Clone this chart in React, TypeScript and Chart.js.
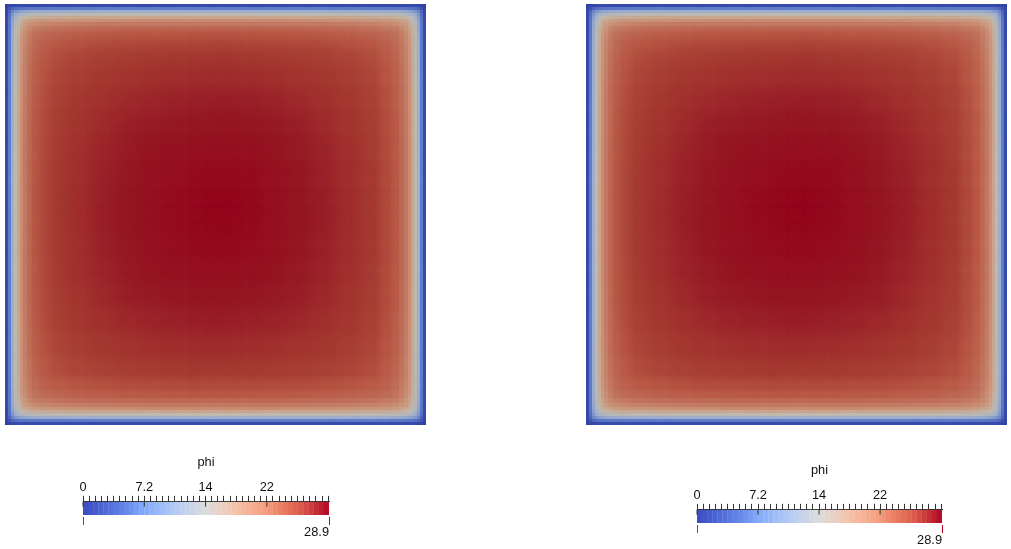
import React, { useEffect, useRef } from "react";
import { Chart, registerables } from "chart.js";

Chart.register(...registerables);

const FONT = '"Liberation Sans"';

// Cell edges of the phi field, in panel units (finer near the walls, where phi rises quickly)
const cellEdges = [
  0, 3, 6, 9, 12, 15, 18, 22, 27, 34, 46, 66, 91, 116, 141, 166, 191, 210,
  230, 255, 280, 305, 330, 355, 375, 387, 394, 399, 403, 406, 409, 412, 415, 418, 421,
];

// phi, one row per cell row (the two panels look the same at this resolution)
const phiRows = [
  [.3,.7,.9,1.0,1.1,1.1,1.1,1.1,1.2,1.2,1.2,1.2,1.2,1.2,1.2,1.2,1.2,1.2,1.2,1.2,1.2,1.2,1.2,1.2,1.2,1.2,1.1,1.1,1.1,1.1,1.0,.9,.7,.3],
  [.7,2.0,3.2,3.9,4.2,4.4,4.5,4.6,4.7,4.8,4.9,4.9,5.0,5.0,5.0,5.0,5.0,5.0,5.0,5.0,5.0,5.0,4.9,4.9,4.8,4.7,4.6,4.5,4.4,4.2,3.9,3.2,2.0,.7],
  [.9,3.2,6.0,7.8,8.8,9.4,9.8,10.1,10.3,10.5,10.7,10.8,10.9,10.9,11.0,11.0,11.0,11.0,11.0,11.0,10.9,10.9,10.8,10.7,10.5,10.3,10.1,9.8,9.4,8.8,7.8,6.0,3.2,.9],
  [1.0,3.9,7.8,10.4,12.0,13.0,13.6,14.1,14.4,14.7,15.0,15.2,15.3,15.4,15.4,15.5,15.5,15.5,15.5,15.4,15.4,15.3,15.2,15.0,14.7,14.4,14.1,13.6,13.0,12.0,10.4,7.8,3.9,1.0],
  [1.1,4.2,8.8,12.0,14.0,15.3,16.0,16.5,16.9,17.2,17.5,17.7,17.8,17.9,17.9,18.0,18.0,18.0,18.0,17.9,17.9,17.8,17.7,17.5,17.2,16.9,16.5,16.0,15.3,14.0,12.0,8.8,4.2,1.1],
  [1.1,4.4,9.4,13.0,15.3,16.7,17.6,18.2,18.7,19.1,19.4,19.6,19.8,19.9,20.0,20.0,20.0,20.0,20.0,20.0,19.9,19.8,19.6,19.4,19.1,18.7,18.2,17.6,16.7,15.3,13.0,9.4,4.4,1.1],
  [1.1,4.5,9.8,13.6,16.0,17.6,18.7,19.4,19.9,20.3,20.7,20.9,21.1,21.2,21.3,21.3,21.3,21.3,21.3,21.3,21.2,21.1,20.9,20.7,20.3,19.9,19.4,18.7,17.6,16.0,13.6,9.8,4.5,1.1],
  [1.1,4.6,10.1,14.1,16.5,18.2,19.4,20.2,20.8,21.2,21.6,21.9,22.1,22.2,22.3,22.3,22.3,22.4,22.3,22.3,22.2,22.1,21.9,21.6,21.2,20.8,20.2,19.4,18.2,16.5,14.1,10.1,4.6,1.1],
  [1.2,4.7,10.3,14.4,16.9,18.7,19.9,20.8,21.5,22.0,22.4,22.7,22.9,23.1,23.1,23.2,23.2,23.3,23.2,23.1,23.1,22.9,22.7,22.4,22.0,21.5,20.8,19.9,18.7,16.9,14.4,10.3,4.7,1.2],
  [1.2,4.8,10.5,14.7,17.2,19.1,20.3,21.2,22.0,22.6,23.1,23.4,23.7,23.8,23.9,24.0,24.0,24.1,24.0,23.9,23.8,23.7,23.4,23.1,22.6,22.0,21.2,20.3,19.1,17.2,14.7,10.5,4.8,1.2],
  [1.2,4.9,10.7,15.0,17.5,19.4,20.7,21.6,22.4,23.1,23.9,24.3,24.6,24.8,24.9,25.0,25.0,25.1,25.0,24.9,24.8,24.6,24.3,23.9,23.1,22.4,21.6,20.7,19.4,17.5,15.0,10.7,4.9,1.2],
  [1.2,4.9,10.8,15.2,17.7,19.6,20.9,21.9,22.7,23.4,24.3,24.8,25.1,25.4,25.6,25.7,25.8,25.8,25.8,25.6,25.4,25.1,24.8,24.3,23.4,22.7,21.9,20.9,19.6,17.7,15.2,10.8,4.9,1.2],
  [1.2,5.0,10.9,15.3,17.8,19.8,21.1,22.1,22.9,23.7,24.6,25.1,25.6,26.0,26.2,26.4,26.5,26.6,26.5,26.3,26.0,25.6,25.1,24.6,23.7,22.9,22.1,21.1,19.8,17.8,15.3,10.9,5.0,1.2],
  [1.2,5.0,10.9,15.4,17.9,19.9,21.2,22.2,23.1,23.8,24.8,25.4,26.0,26.5,26.8,27.0,27.1,27.2,27.1,26.9,26.5,26.0,25.4,24.8,23.8,23.1,22.2,21.2,19.9,17.9,15.4,10.9,5.0,1.2],
  [1.2,5.0,11.0,15.4,17.9,20.0,21.3,22.3,23.1,23.9,24.9,25.6,26.2,26.8,27.3,27.5,27.7,27.8,27.7,27.4,26.8,26.2,25.6,24.9,23.9,23.1,22.3,21.3,20.0,17.9,15.4,11.0,5.0,1.2],
  [1.2,5.0,11.0,15.5,18.0,20.0,21.3,22.3,23.2,24.0,25.0,25.7,26.4,27.0,27.5,28.0,28.3,28.4,28.3,27.6,27.0,26.4,25.7,25.0,24.0,23.2,22.3,21.3,20.0,18.0,15.5,11.0,5.0,1.2],
  [1.2,5.0,11.0,15.5,18.0,20.0,21.3,22.3,23.2,24.0,25.0,25.8,26.5,27.1,27.7,28.3,28.7,28.9,28.5,27.8,27.1,26.5,25.8,25.0,24.0,23.2,22.3,21.3,20.0,18.0,15.5,11.0,5.0,1.2],
  [1.2,5.0,11.0,15.5,18.0,20.0,21.3,22.3,23.2,24.0,25.0,25.8,26.5,27.1,27.7,28.2,28.6,28.7,28.4,27.8,27.1,26.5,25.8,25.0,24.0,23.2,22.3,21.3,20.0,18.0,15.5,11.0,5.0,1.2],
  [1.2,5.0,11.0,15.5,18.0,20.0,21.3,22.3,23.2,24.0,25.0,25.7,26.4,27.0,27.5,28.0,28.2,28.3,28.1,27.6,27.0,26.4,25.7,25.0,24.0,23.2,22.3,21.3,20.0,18.0,15.5,11.0,5.0,1.2],
  [1.2,5.0,11.0,15.4,17.9,20.0,21.3,22.3,23.1,23.9,24.9,25.6,26.2,26.8,27.3,27.5,27.7,27.7,27.6,27.3,26.8,26.2,25.6,24.9,23.9,23.1,22.3,21.3,20.0,17.9,15.4,11.0,5.0,1.2],
  [1.2,5.0,10.9,15.4,17.9,19.9,21.2,22.2,23.1,23.8,24.8,25.4,26.0,26.5,26.8,27.0,27.1,27.1,27.0,26.8,26.5,26.0,25.4,24.8,23.8,23.1,22.2,21.2,19.9,17.9,15.4,10.9,5.0,1.2],
  [1.2,5.0,10.9,15.3,17.8,19.8,21.1,22.1,22.9,23.7,24.6,25.1,25.6,26.0,26.2,26.4,26.5,26.5,26.4,26.2,26.0,25.6,25.1,24.6,23.7,22.9,22.1,21.1,19.8,17.8,15.3,10.9,5.0,1.2],
  [1.2,4.9,10.8,15.2,17.7,19.6,20.9,21.9,22.7,23.4,24.3,24.8,25.1,25.4,25.6,25.7,25.8,25.8,25.7,25.6,25.4,25.1,24.8,24.3,23.4,22.7,21.9,20.9,19.6,17.7,15.2,10.8,4.9,1.2],
  [1.2,4.9,10.7,15.0,17.5,19.4,20.7,21.6,22.4,23.1,23.9,24.3,24.6,24.8,24.9,25.0,25.0,25.0,25.0,24.9,24.8,24.6,24.3,23.9,23.1,22.4,21.6,20.7,19.4,17.5,15.0,10.7,4.9,1.2],
  [1.2,4.8,10.5,14.7,17.2,19.1,20.3,21.2,22.0,22.6,23.1,23.4,23.7,23.8,23.9,24.0,24.0,24.0,24.0,23.9,23.8,23.7,23.4,23.1,22.6,22.0,21.2,20.3,19.1,17.2,14.7,10.5,4.8,1.2],
  [1.2,4.7,10.3,14.4,16.9,18.7,19.9,20.8,21.5,22.0,22.4,22.7,22.9,23.1,23.1,23.2,23.2,23.2,23.2,23.1,23.1,22.9,22.7,22.4,22.0,21.5,20.8,19.9,18.7,16.9,14.4,10.3,4.7,1.2],
  [1.1,4.6,10.1,14.1,16.5,18.2,19.4,20.2,20.8,21.2,21.6,21.9,22.1,22.2,22.3,22.3,22.3,22.3,22.3,22.3,22.2,22.1,21.9,21.6,21.2,20.8,20.2,19.4,18.2,16.5,14.1,10.1,4.6,1.1],
  [1.1,4.5,9.8,13.6,16.0,17.6,18.7,19.4,19.9,20.3,20.7,20.9,21.1,21.2,21.3,21.3,21.3,21.3,21.3,21.3,21.2,21.1,20.9,20.7,20.3,19.9,19.4,18.7,17.6,16.0,13.6,9.8,4.5,1.1],
  [1.1,4.4,9.4,13.0,15.3,16.7,17.6,18.2,18.7,19.1,19.4,19.6,19.8,19.9,20.0,20.0,20.0,20.0,20.0,20.0,19.9,19.8,19.6,19.4,19.1,18.7,18.2,17.6,16.7,15.3,13.0,9.4,4.4,1.1],
  [1.1,4.2,8.8,12.0,14.0,15.3,16.0,16.5,16.9,17.2,17.5,17.7,17.8,17.9,17.9,18.0,18.0,18.0,18.0,17.9,17.9,17.8,17.7,17.5,17.2,16.9,16.5,16.0,15.3,14.0,12.0,8.8,4.2,1.1],
  [1.0,3.9,7.8,10.4,12.0,13.0,13.6,14.1,14.4,14.7,15.0,15.2,15.3,15.4,15.4,15.5,15.5,15.5,15.5,15.4,15.4,15.3,15.2,15.0,14.7,14.4,14.1,13.6,13.0,12.0,10.4,7.8,3.9,1.0],
  [.9,3.2,6.0,7.8,8.8,9.4,9.8,10.1,10.3,10.5,10.7,10.8,10.9,10.9,11.0,11.0,11.0,11.0,11.0,11.0,10.9,10.9,10.8,10.7,10.5,10.3,10.1,9.8,9.4,8.8,7.8,6.0,3.2,.9],
  [.7,2.0,3.2,3.9,4.2,4.4,4.5,4.6,4.7,4.8,4.9,4.9,5.0,5.0,5.0,5.0,5.0,5.0,5.0,5.0,5.0,5.0,4.9,4.9,4.8,4.7,4.6,4.5,4.4,4.2,3.9,3.2,2.0,.7],
  [.3,.7,.9,1.0,1.1,1.1,1.1,1.1,1.2,1.2,1.2,1.2,1.2,1.2,1.2,1.2,1.2,1.2,1.2,1.2,1.2,1.2,1.2,1.2,1.2,1.2,1.1,1.1,1.1,1.1,1.0,.9,.7,.3],
];

const phiMax = 28.9;
const axisTicks = [
  0, .72, 1.44, 2.16, 2.88, 3.6, 4.32, 5.04, 5.76, 6.48, 7.2, 7.92, 8.64, 9.36, 10.08, 10.8, 11.52, 12.24,
  12.96, 13.68, 14.4, 15.12, 15.84, 16.56, 17.28, 18, 18.72, 19.44, 20.16, 20.88, 21.6, 22.32, 23.04, 23.76,
  24.48, 25.2, 25.92, 26.64, 27.36, 28.08, 28.8,
];
const majorTicks = [0, 7.2, 14.4, 21.6];
const majorLabels = ["0", "7.2", "14", "22"];
const rangeTicks = [0, 28.9];
const rangeLabels = ["", "28.9"];
const barBands = 48;

type Stop = [number, number, number, number];
// lit surface colours of the field
const fieldStops: Stop[] = [
  [0, 45, 62, 160], [1.2, 55, 75, 170], [5, 95, 125, 200], [11, 160, 175, 205], [15.5, 190, 185, 175],
  [18, 200, 165, 140], [20, 200, 140, 115], [22.3, 190, 105, 85], [23.2, 185, 90, 70], [25, 165, 58, 50],
  [25.8, 160, 45, 45], [26.5, 152, 30, 40], [27.1, 150, 22, 35], [27.7, 150, 17, 33], [28.2, 150, 12, 31],
  [28.9, 148, 5, 28],
];
// colour bar colours
const barStops: Stop[] = [
  [0, 59, 76, 192], [3.6, 85, 115, 222], [7.2, 130, 170, 250], [10.8, 180, 202, 245], [14.45, 221, 221, 221],
  [18, 245, 195, 170], [21.7, 244, 154, 123], [25.3, 222, 96, 77], [28.9, 178, 8, 38],
];

function rgbFor(v: number, stops: Stop[]) {
  for (let i = 1; i < stops.length; i++) {
    if (v <= stops[i][0]) {
      const a = stops[i - 1];
      const b = stops[i];
      const t = (v - a[0]) / (b[0] - a[0]);
      return [1, 2, 3].map((k) => Math.round(a[k] + (b[k] - a[k]) * t));
    }
  }
  const l = stops[stops.length - 1];
  return [l[1], l[2], l[3]];
}
function colorFor(v: number, stops: Stop[]) {
  const c = rgbFor(v, stops);
  return `rgb(${c[0]},${c[1]},${c[2]})`;
}

const FEATHER_FROM = 7;
const spriteCache = new Map<string, HTMLCanvasElement>();
// A cell sprite: solid for thin cells; wider cells fade out towards their neighbours' centres
function cellSprite(w: number, h: number, v: number, soft: boolean) {
  const key = `${w}|${h}|${v}|${soft}`;
  let c = spriteCache.get(key);
  if (c) return c;
  c = document.createElement("canvas");
  const softX = soft && w >= FEATHER_FROM;
  const softY = soft && h >= FEATHER_FROM;
  const sw = softX ? w * 2 : w;
  const sh = softY ? h * 2 : h;
  c.width = sw;
  c.height = sh;
  const g = c.getContext("2d")!;
  const rgb = rgbFor(v, fieldStops);
  const img = g.createImageData(sw, sh);
  for (let y = 0; y < sh; y++) {
    const ty = softY ? 1 - Math.abs((2 * (y + 0.5)) / sh - 1) : 1;
    for (let x = 0; x < sw; x++) {
      const tx = softX ? 1 - Math.abs((2 * (x + 0.5)) / sw - 1) : 1;
      const p = (y * sw + x) * 4;
      img.data[p] = rgb[0];
      img.data[p + 1] = rgb[1];
      img.data[p + 2] = rgb[2];
      img.data[p + 3] = Math.round(255 * tx * ty);
    }
  }
  g.putImageData(img, 0, 0);
  spriteCache.set(key, c);
  return c;
}

function makeField(canvas: HTMLCanvasElement) {
  const n = cellEdges.length - 1;
  const points: { x: number; y: number }[] = [];
  const values: number[] = [];
  const rows: number[] = [];
  const cols: number[] = [];
  phiRows.forEach((row, r) =>
    row.forEach((v, c) => {
      points.push({ x: (cellEdges[c] + cellEdges[c + 1]) / 2, y: (cellEdges[r] + cellEdges[r + 1]) / 2 });
      values.push(v);
      rows.push(r);
      cols.push(c);
    })
  );
  const last = cellEdges[n];
  // the panel is as many pixels wide as it has units, so a cell's size in units is its size in pixels
  const style = (soft: boolean) => (ctx: any) => {
    const i = ctx.dataIndex;
    if (i === undefined) return "rect";
    const w = cellEdges[cols[i] + 1] - cellEdges[cols[i]];
    const h = cellEdges[rows[i] + 1] - cellEdges[rows[i]];
    return cellSprite(w, h, values[i], soft);
  };
  return new Chart(canvas, {
    type: "scatter",
    data: {
      datasets: [
        { data: points, order: 1, pointRadius: 1, pointBorderWidth: 0, pointStyle: style(true) },
        { data: points, order: 2, pointRadius: 1, pointBorderWidth: 0, pointStyle: style(true) },
        { data: points, order: 3, pointRadius: 1, pointBorderWidth: 0, pointStyle: style(true) },
        { data: points, order: 4, pointRadius: 1, pointBorderWidth: 0, pointStyle: style(false) },
      ],
    },
    options: {
      animation: false,
      responsive: false,
      maintainAspectRatio: false,
      events: [],
      layout: { padding: 0, autoPadding: false },
      plugins: { legend: { display: false }, tooltip: { enabled: false } },
      scales: {
        x: { type: "linear", display: false, min: 0, max: last },
        y: { type: "linear", display: false, min: 0, max: last, reverse: true },
      },
    } as any,
  });
}

function makeBar(canvas: HTMLCanvasElement, paddingRight: number) {
  const bands = Array.from({ length: barBands }, (_, i) => (phiMax * (i + 0.5)) / barBands);
  const labelFont = { family: FONT, size: 12.8 };
  return new Chart(canvas, {
    type: "bar",
    data: {
      datasets: [
        {
          type: "scatter",
          order: 0,
          clip: false,
          data: majorTicks.map((v) => ({ x: v, y: 2.2 })),
          pointStyle: "line",
          rotation: 90,
          pointRadius: 2.5,
          borderWidth: 1,
          borderColor: "#333",
          xAxisID: "x",
          yAxisID: "y",
        },
        {
          type: "bar",
          order: 1,
          data: bands.map((v) => ({ x: v, y: [0, 13] })),
          backgroundColor: bands.map((v) => colorFor(v, barStops)),
          borderWidth: 0,
          barPercentage: 1.06,
          categoryPercentage: 1,
          xAxisID: "x",
          yAxisID: "y",
        },
      ],
    } as any,
    options: {
      animation: false,
      responsive: false,
      maintainAspectRatio: false,
      events: [],
      layout: { padding: { left: 23, right: paddingRight, top: 0, bottom: 0 }, autoPadding: false },
      plugins: {
        legend: { display: false },
        tooltip: { enabled: false },
        title: {
          display: true,
          text: "phi",
          color: "#111",
          font: { family: FONT, size: 12.8, weight: "normal" },
          padding: { top: 5, bottom: 3 },
        },
      },
      scales: {
        x: {
          type: "linear",
          position: "top",
          min: 0,
          max: phiMax,
          offset: false,
          afterBuildTicks: (s: any) => {
            s.ticks = axisTicks.map((value) => ({ value }));
          },
          afterFit: (s: any) => {
            s.height = 28.5;
          },
          ticks: {
            autoSkip: false,
            maxRotation: 0,
            color: "#111",
            padding: 1,
            font: labelFont,
            callback: (v: number) => {
              const i = majorTicks.indexOf(v);
              return i >= 0 ? majorLabels[i] : "";
            },
          },
          border: { display: true, color: "#333", width: 1 },
          grid: { drawOnChartArea: false, offset: false, drawTicks: true, tickLength: 6, tickColor: "#333", tickWidth: 1 },
        },
        x2: {
          type: "linear",
          axis: "x",
          position: "bottom",
          min: 0,
          max: phiMax,
          offset: false,
          afterBuildTicks: (s: any) => {
            s.ticks = rangeTicks.map((value) => ({ value }));
          },
          afterFit: (s: any) => {
            s.height = 24;
          },
          ticks: {
            autoSkip: false,
            maxRotation: 0,
            align: "end",
            color: "#111",
            padding: 0,
            font: labelFont,
            callback: (v: number) => rangeLabels[rangeTicks.indexOf(v)] ?? "",
          },
          border: { display: false },
          grid: {
            drawOnChartArea: false,
            offset: false,
            tickLength: 8,
            tickWidth: 1,
            tickColor: (ctx: any) => (ctx.index === 0 ? "#3c4cc0" : "#b40426"),
          },
        },
        y: { type: "linear", display: false, min: 0, max: 15, reverse: true },
      },
    } as any,
  });
}

const abs = (left: number, top: number): React.CSSProperties => ({ position: "absolute", left, top, display: "block" });

export default function App() {
  const f1 = useRef<HTMLCanvasElement>(null);
  const f2 = useRef<HTMLCanvasElement>(null);
  const b1 = useRef<HTMLCanvasElement>(null);
  const b2 = useRef<HTMLCanvasElement>(null);
  useEffect(() => {
    const charts = [makeField(f1.current!), makeField(f2.current!), makeBar(b1.current!, 25), makeBar(b2.current!, 24)];
    return () => charts.forEach((c) => c.destroy());
  }, []);
  return (
    <>
      <canvas ref={f1} width={421} height={421} style={abs(5, 4)} />
      <canvas ref={f2} width={421} height={421} style={abs(586, 4)} />
      <canvas ref={b1} width={294} height={91} style={abs(60, 450)} />
      <canvas ref={b2} width={292} height={91} style={abs(674, 458)} />
    </>
  );
}
